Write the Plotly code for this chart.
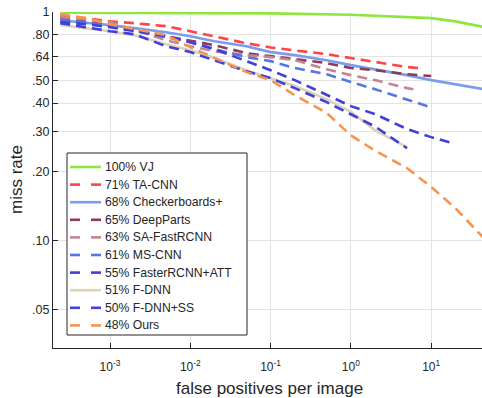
import plotly.graph_objects as go

fppi = [2.4e-4, 5e-4, 1e-3, 2e-3, 5e-3, 1e-2, 2e-2, 5e-2, 0.1, 0.2, 0.5, 1, 2, 5, 10, 20, 45]

vj_x = [2.4e-4, 1e-3, 1e-2, 0.1, 1, 5, 10, 20, 45]
vj_y = [0.992, 0.992, 0.99, 0.986, 0.972, 0.954, 0.94, 0.91, 0.86]

tacnn_x = fppi[:14] + [7]
tacnn_y = [0.968, 0.94, 0.91, 0.894, 0.867, 0.824, 0.784, 0.73, 0.70, 0.681, 0.654, 0.629, 0.604, 0.575, 0.569]

checker_x = fppi
checker_y = [0.921, 0.90, 0.876, 0.85, 0.816, 0.784, 0.745, 0.709, 0.668, 0.648, 0.616, 0.586, 0.563, 0.530, 0.504, 0.484, 0.46]

deepparts_x = fppi[:14] + [7, 10]
deepparts_y = [0.94, 0.91, 0.876, 0.833, 0.784, 0.753, 0.716, 0.661, 0.641, 0.622, 0.598, 0.569, 0.557, 0.535, 0.53, 0.525]

safast_x = fppi[:14] + [6]
safast_y = [0.95, 0.93, 0.903, 0.833, 0.753, 0.709, 0.674, 0.648, 0.635, 0.616, 0.562, 0.53, 0.504, 0.465, 0.46]

mscnn_x = fppi[:15]
mscnn_y = [0.92, 0.903, 0.867, 0.833, 0.776, 0.738, 0.688, 0.635, 0.61, 0.569, 0.535, 0.494, 0.46, 0.416, 0.383]

fasteratt_x = fppi[:15] + [18]
fasteratt_y = [0.903, 0.885, 0.858, 0.824, 0.784, 0.738, 0.688, 0.61, 0.557, 0.504, 0.433, 0.388, 0.358, 0.308, 0.284, 0.268]

fdnn_x = fppi[:14]
fdnn_y = [0.876, 0.85, 0.824, 0.792, 0.723, 0.681, 0.629, 0.557, 0.514, 0.475, 0.416, 0.366, 0.304, 0.257]

fdnnss_x = fppi[:14]
fdnnss_y = [0.893, 0.858, 0.824, 0.80, 0.709, 0.668, 0.616, 0.551, 0.514, 0.465, 0.404, 0.358, 0.316, 0.254]

ours_x = fppi
ours_y = [0.978, 0.94, 0.885, 0.841, 0.792, 0.702, 0.629, 0.546, 0.504, 0.433, 0.362, 0.289, 0.248, 0.208, 0.172, 0.139, 0.103]

names = ["100% VJ", "71% TA-CNN", "68% Checkerboards+", "65% DeepParts", "63% SA-FastRCNN",
         "61% MS-CNN", "55% FasterRCNN+ATT", "51% F-DNN", "50% F-DNN+SS", "48% Ours"]
series = [(vj_x, vj_y), (tacnn_x, tacnn_y), (checker_x, checker_y), (deepparts_x, deepparts_y),
          (safast_x, safast_y), (mscnn_x, mscnn_y), (fasteratt_x, fasteratt_y),
          (fdnn_x, fdnn_y), (fdnnss_x, fdnnss_y), (ours_x, ours_y)]
colors = ["#8EE63E", "#FA4646", "#7B9CEA", "#8E3A5C", "#C48592", "#5577E6", "#4040D8",
          "#DDD3B5", "#4040DC", "#F5944F"]
dashed = [False, True, False, True, True, True, True, False, True, True]

ytickvals = [0.05, 0.1, 0.2, 0.3, 0.4, 0.5, 0.64, 0.8, 1]
yticktext = [".05", ".10", ".20", ".30", ".40", ".50", ".64", ".80", "1"]
xtickvals = [1e-3, 1e-2, 1e-1, 1, 10]
xticktext = ["10<sup>-3</sup>", "10<sup>-2</sup>", "10<sup>-1</sup>", "10<sup>0</sup>", "10<sup>1</sup>"]

W, H = 482, 398
ML, MR, MT, MB = 53, 0, 12, 50
PW, PH = W - ML - MR, H - MT - MB


def px(x):
    return (x - ML) / PW


def py(y):
    return (H - MB - y) / PH


fig = go.Figure()
for (x, y), n, c, d in zip(series, names, colors, dashed):
    fig.add_trace(go.Scatter(x=x, y=y, name=n, mode="lines", showlegend=False,
                             line=dict(color=c, width=2.6, dash="10px,6px" if d else "solid")))

font = "Liberation Sans, Arial, sans-serif"
ink = "#262626"

shapes = []
annotations = []
# legend box
shapes.append(dict(type="rect", xref="paper", yref="paper", x0=px(67), x1=px(247),
                   y0=py(335), y1=py(153), fillcolor="white", line=dict(color=ink, width=1),
                   layer="above"))
for i, (n, c, d) in enumerate(zip(names, colors, dashed)):
    yy = py(167 + i * 17.6)
    segs = [(70, 80), (91, 101)] if d else [(70, 101)]
    for a, b in segs:
        shapes.append(dict(type="line", xref="paper", yref="paper", x0=px(a), x1=px(b),
                           y0=yy, y1=yy, line=dict(color=c, width=2.6), layer="above"))
    annotations.append(dict(text=n, x=px(103), y=yy, xref="paper", yref="paper",
                            xanchor="left", yanchor="middle", showarrow=False,
                            font=dict(size=12.2, color=ink)))

annotations.append(dict(text="false positives per image", x=px(269), y=py(388),
                        xref="paper", yref="paper", xanchor="center", yanchor="middle",
                        showarrow=False, font=dict(size=17, color=ink)))
annotations.append(dict(text="miss rate", x=px(16), y=py(180), xref="paper", yref="paper",
                        xanchor="center", yanchor="middle",
                        showarrow=False, textangle=-90, font=dict(size=17, color=ink)))

fig.update_layout(
    width=W, height=H,
    margin=dict(l=ML, r=MR, t=MT, b=MB, autoexpand=False),
    paper_bgcolor="white", plot_bgcolor="white",
    font=dict(family=font, size=12, color=ink),
    showlegend=False,
    hovermode=False,
    xaxis=dict(type="log", range=[-3.71, 1.633], tickvals=xtickvals, ticktext=xticktext,
               showgrid=True, gridcolor="#E4E4E4", gridwidth=1, automargin=False,
               showline=True, linecolor=ink, linewidth=1,
               ticks="inside", ticklen=5, tickcolor=ink, zeroline=False,
               ticklabelstandoff=8,
               tickfont=dict(size=12, color=ink)),
    yaxis=dict(type="log", range=[-1.468, 0], tickvals=ytickvals, ticktext=yticktext,
               showgrid=True, gridcolor="#E4E4E4", gridwidth=1, automargin=False,
               showline=True, linecolor=ink, linewidth=1,
               ticks="inside", ticklen=5, tickcolor=ink, zeroline=False,
               tickfont=dict(size=12.5, color=ink)),
    shapes=shapes,
    annotations=annotations,
)

fig.write_html("out.html", config={"displayModeBar": False, "staticPlot": True},
               post_script="document.body.style.margin='0';document.body.style.overflow='hidden';")
